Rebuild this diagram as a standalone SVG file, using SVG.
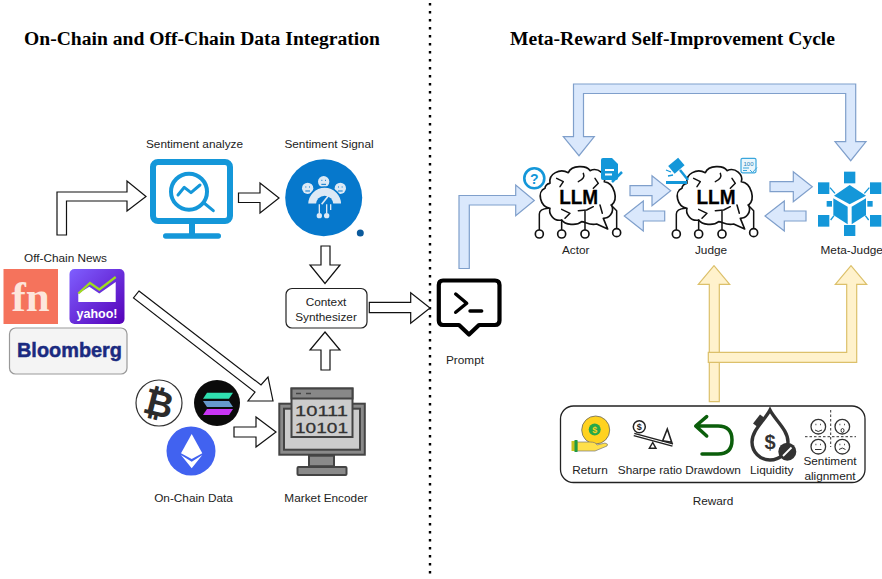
<svg xmlns="http://www.w3.org/2000/svg" xmlns:xlink="http://www.w3.org/1999/xlink" width="882" height="579" viewBox="0 0 882 579">
<style>
text{font-family:"Liberation Sans",Arial,sans-serif;fill:#222}
.l{font-size:11.8px;text-anchor:middle}
.t{font-family:"Liberation Serif","Times New Roman",serif;font-size:19.6px;font-weight:bold;fill:#000}
.w{fill:#fff;stroke:#111;stroke-width:1.2}
.b{fill:#dae8fc;stroke:#7f9fcb;stroke-width:1.2}
.y{fill:#fff2cc;stroke:#dcc06a;stroke-width:1.2}
.k{fill:none;stroke:#111;stroke-linecap:round;stroke-linejoin:round}
.c{fill:#1497d9}
.g{fill:#8a8a8a;stroke:#444;stroke-width:2}
.f{fill:#fff;stroke:#333;stroke-width:1.3}
.m{font-size:21px;font-weight:bold;fill:#000;stroke:#000;stroke-width:.3}
</style>
<defs>
<linearGradient id="yg" x1="0" y1="0" x2="1" y2="1"><stop offset="0" stop-color="#7f5fff"/><stop offset="1" stop-color="#5500b8"/></linearGradient>
<g id="brain">
<path class="k" stroke-width="5" d="M105,100C100,70 135,55 160,68C170,45 215,45 225,62C250,50 275,75 268,95C300,100 310,150 290,165C300,190 280,205 265,205L278,237L245,222C225,228 210,215 200,215C185,228 150,225 140,210C115,215 100,190 105,175C75,170 65,125 90,115C90,110 95,100 105,100Z" fill="#fff"/>
<path class="k" stroke-width="4.500" d="M73,240V192Q73,177 100,175M140,240V210M210,240V180M305,240V182L288,165M125,85L145,95L135,110M205,70Q212,85 190,95M240,85L250,100L235,115M140,178L165,190L150,205M190,182L215,180L235,170M255,165L262,190"/>
<circle cx="73" cy="252" r="12" fill="#fff" stroke="#111" stroke-width="5"/>
<circle cx="140" cy="252" r="12" fill="#fff" stroke="#111" stroke-width="5"/>
<circle cx="210" cy="252" r="12" fill="#fff" stroke="#111" stroke-width="5"/>
<circle cx="305" cy="248" r="12" fill="#fff" stroke="#111" stroke-width="5"/>
</g>
</defs>
<rect width="882" height="579" fill="#fff"/>
<line x1="430" y1="3" x2="430" y2="579" stroke="#000" stroke-width="2.4" stroke-dasharray="2.4 5.6"/>
<text class="t" x="24" y="45">On-Chain and Off-Chain Data Integration</text>
<text class="t" x="510" y="45">Meta-Reward Self-Improvement Cycle</text>

<g id="connectors">
<polygon class="w" points="57,235 57,192 127,192 127,181 146,196.5 127,211 127,201 66.5,201 66.5,235"/>
<polygon class="w" points="238.5,193 260,193 260,183 279,198 260,213 260,202.500 238.500,202.500"/>
<polygon class="w" points="321,246 330,246 330,265 340,265 325,283.500 310,265 321,265"/>
<polygon class="w" points="325,332 340,350 330,350 330,370 321,370 321,350 310,350"/>
<polygon class="w" points="139,291 261,385 268,377 273,401 248,401 255,392 133.500,298"/>
<polygon class="w" points="234,427 256,427 256,417 276,432 256,447 256,437 234,437"/>
<polygon class="w" points="369.300,302.300 410.700,302.300 410.700,292.700 430,308 410.700,323.300 410.700,312.700 369.300,312.700"/>
<polygon class="b" points="573.500,136.700 573.500,84 855.700,84 855.700,141.700 866,141.700 850.700,160.700 835,141.700 845.700,141.700 845.700,93.500 583.500,93.500 583.500,136.700 594.300,136.700 579,155.700 563.300,136.700"/>
<polygon class="b" points="459,268.500 459,195.500 515.700,195.500 515.700,185 534.300,200.500 515.700,215.700 515.700,205 469.300,205 469.300,268.500"/>
<polygon class="b" points="630,185.700 652,185.700 652,175.700 670.700,190.700 652,205.700 652,195.700 630,195.700"/>
<polygon class="b" points="664.700,211 643.300,211 643.300,201 624.300,216 643.300,231 643.300,221 664.700,221"/>
<polygon class="b" points="770,181.700 793.300,181.700 793.300,171.700 812.300,186.700 793.300,201.700 793.300,191.700 770,191.700"/>
<polygon class="b" points="806,211 784.300,211 784.300,201 765,216 784.300,231 784.300,221 806,221"/>
<polygon class="y" points="709.300,401.700 709.300,284.300 698.300,284.300 714,265.700 729.700,284.300 719.300,284.300 719.300,401.700"/>
<polygon class="y" points="708.300,352.300 846.700,352.300 846.700,284.300 835.300,284.300 851,265.700 866.700,284.300 856.700,284.300 856.700,362.300 708.300,362.300"/>
</g>

<g id="sentiment-analyze">
<text class="l" x="194.500" y="148">Sentiment analyze</text>
<rect x="153" y="162" width="77" height="59" rx="5" fill="#fff" stroke="#1497d9" stroke-width="6"/>
<rect class="c" x="189" y="224" width="6" height="11"/>
<rect class="c" x="163" y="233.300" width="58" height="5.400" rx="2.700"/>
<circle cx="189" cy="191.700" r="18" fill="none" stroke="#1497d9" stroke-width="4"/>
<path d="M204,203L213.300,210.700M178,195L184.300,187.300L191,192.700L200,185" fill="none" stroke="#1497d9" stroke-width="3" stroke-linecap="round" stroke-linejoin="round"/>
</g>

<g id="sentiment-signal">
<text class="l" x="329" y="148">Sentiment Signal</text>
<circle cx="323.700" cy="197.700" r="38.500" fill="#0678cc"/>
<circle cx="360.300" cy="233" r="3.500" fill="#0b5a9c"/>
<g transform="translate(280,160) scale(.3333)">
<g fill="#dce9f5"><circle cx="83" cy="85" r="17"/><circle cx="131" cy="65" r="17"/><circle cx="181" cy="85" r="17"/>
<path d="M82,133A52,52 0 0 1 186,133Z" stroke="#0678cc" stroke-width="5"/><circle cx="118" cy="167" r="8"/><circle cx="140" cy="167" r="8"/></g>
<path d="M108,133A26,26 0 0 1 160,133Z" fill="#0678cc"/>
<path d="M118,133V160M140,133V160M152,133V150" stroke="#dce9f5" stroke-width="4" fill="none"/>
<path d="M125,133L147,105" stroke="#dce9f5" stroke-width="5"/>
<path d="M76,81h3M87,81h3M124,61h3M135,61h3M174,81h3M185,81h3M76,93h14M124,73h14M174,93h14" stroke="#0678cc" stroke-width="3" fill="none"/>
</g>
</g>

<g id="off-chain-news">
<text class="l" x="65.500" y="262">Off-Chain News</text>
<rect x="3.500" y="269" width="54.500" height="55" fill="#f5735c"/>
<text x="30.500" y="311" text-anchor="middle" style="font-family:'Liberation Serif',serif;font-size:43px;font-weight:bold;fill:#fde6dc">fn</text>
<rect x="69.500" y="269" width="55" height="55" rx="5" fill="url(#yg)"/>
<polygon points="78.300,302 78.300,293.500 89.300,286.700 99.300,293.500 115.700,282 115.700,302" fill="#fff"/>
<path d="M78.300,293.500L90,283L99.300,289.500L115.700,277" fill="none" stroke="#9fdc1e" stroke-width="2.300"/>
<text x="97" y="318" text-anchor="middle" style="font-size:12.500px;font-weight:bold;fill:#fff">yahoo!</text>
<rect x="9.500" y="328" width="117.500" height="46" rx="6" fill="#f4f4f4" stroke="#999" stroke-width="1.200"/>
<text x="17" y="357" textLength="105" lengthAdjust="spacingAndGlyphs" style="font-size:21px;font-weight:bold;fill:#1a2a80;stroke:#1a2a80;stroke-width:.5">Bloomberg</text>
</g>

<g id="context-synthesizer">
<rect x="286" y="288.500" width="81" height="39.500" rx="6" fill="#fff" stroke="#222" stroke-width="1.200"/>
<text class="l" x="326" y="305.500">Context</text>
<text class="l" x="326" y="320.500">Synthesizer</text>
</g>

<g id="on-chain-data">
<circle cx="159" cy="403" r="23" fill="#fff" stroke="#333" stroke-width="1.200"/>
<text x="159" y="416" text-anchor="middle" transform="rotate(14 159 403)" style="font-family:'DejaVu Sans',sans-serif;font-size:36px;font-weight:bold;fill:#2b2b2b">₿</text>
<circle cx="217" cy="403" r="23" fill="#0b0b0b"/>
<polygon points="207,392.700 233,392.700 229,398.700 203,398.700" fill="#2fe0b0"/>
<polygon points="203,401 229,401 233,407 207,407" fill="#6699cc"/>
<polygon points="207,409 233,409 229,415 203,415" fill="#c935f5"/>
<circle cx="191" cy="451" r="24.500" fill="#4162f0"/>
<polygon points="191.700,434 181,453.300 191.700,459 202.300,453.300" fill="#fff"/>
<polygon points="181,455 191.700,468.300 202.300,455 191.700,461.700" fill="#fff"/>
<text class="l" x="193.500" y="502">On-Chain Data</text>
</g>

<g id="market-encoder">
<rect class="g" x="279.300" y="403.700" width="85.500" height="51"/>
<rect x="284" y="408.700" width="76" height="41" fill="#ccc" stroke="#444" stroke-width="2"/>
<rect class="g" x="309" y="455.700" width="25" height="10.500"/>
<rect class="g" x="297.500" y="467" width="49" height="8" rx="1"/>
<rect x="291.500" y="388.500" width="61" height="48.500" fill="#ccc" stroke="#444" stroke-width="2"/>
<rect x="291.500" y="388.500" width="61" height="10" fill="#888" stroke="#444" stroke-width="2"/>
<path d="M296,393.500H301M306,393.500H311" stroke="#444" stroke-width="1.600"/>
<text x="295" y="415.500" textLength="53" lengthAdjust="spacingAndGlyphs" style="font-size:15.500px;fill:#333;stroke:#333;stroke-width:.3">10111</text>
<text x="295" y="432.500" textLength="53" lengthAdjust="spacingAndGlyphs" style="font-size:15.500px;fill:#333;stroke:#333;stroke-width:.3">10101</text>
<text class="l" x="326" y="502">Market Encoder</text>
</g>

<g id="prompt">
<path d="M443,280.500H495Q499.500,280.500 499.500,285V320.500Q499.500,325 495,325H479L469,334.500L459,325H443Q438.800,325 438.800,320.500V285Q438.800,280.500 443,280.500Z" fill="#fff" stroke="#000" stroke-width="4.200" stroke-linejoin="round"/>
<path d="M455.700,294L466.700,303.300L455.700,312.300M470,311H481.700" fill="none" stroke="#000" stroke-width="3.400" stroke-linecap="round" stroke-linejoin="round"/>
<text class="l" x="465" y="364">Prompt</text>
</g>

<g id="actor">
<use xlink:href="#brain" href="#brain" transform="translate(515,150) scale(.3333)"/>
<text class="m" x="559.200" y="203.500" textLength="39" lengthAdjust="spacingAndGlyphs">LLM</text>
<circle cx="534.300" cy="178.300" r="10" fill="#fff" stroke="#1497d9" stroke-width="2.600"/>
<text x="534.300" y="183.500" text-anchor="middle" style="font-size:14px;font-weight:bold;fill:#1497d9">?</text>
<path class="c" d="M601,160Q601,158 603,158H612L618,164V178Q618,180 616,180H603Q601,180 601,178Z"/>
<path d="M605,170H614M605,174.500H612" stroke="#fff" stroke-width="2"/>
<path d="M612,182L622,172" stroke="#1497d9" stroke-width="2.500"/>
<text class="l" x="575.700" y="254.300">Actor</text>
</g>

<g id="judge">
<use xlink:href="#brain" href="#brain" transform="translate(652,150) scale(.3333)"/>
<text class="m" x="696.500" y="203.500" textLength="39" lengthAdjust="spacingAndGlyphs">LLM</text>
<rect class="c" x="666" y="181" width="21" height="3"/>
<rect class="c" x="670" y="161" width="13" height="10" transform="rotate(-40 676 166)"/>
<path d="M680,170L688,180" stroke="#1497d9" stroke-width="2.500"/>
<path d="M666,170L671,172M668,176L673,175" stroke="#1497d9" stroke-width="1.300"/>
<rect x="741" y="158.300" width="15" height="14.500" rx="1.500" fill="#eaf6fc" stroke="#3aa6dc" stroke-width="1.200"/>
<text x="748.500" y="165.500" text-anchor="middle" style="font-size:6px;fill:#1d7fb8">100</text>
<path d="M743,168H749M743,170.500H747M750,170L752.500,172.500L757,167.500" fill="none" stroke="#3aa6dc" stroke-width="1"/>
<text class="l" x="711" y="254.300">Judge</text>
</g>

<g id="meta-judge">
<g transform="translate(810,165) scale(.3333)">
<g class="c">
<rect x="102" y="20" width="34" height="35"/><rect x="24" y="52" width="34" height="35"/><rect x="180" y="52" width="34" height="35"/>
<rect x="24" y="150" width="34" height="35"/><rect x="180" y="150" width="34" height="35"/><rect x="102" y="180" width="34" height="33"/>
<rect x="50" y="108" width="16" height="17"/><rect x="172" y="108" width="16" height="17"/>
<polygon points="119,60 168,92 119,118 72,92"/><polygon points="70,100 113,125 113,178 70,150"/><polygon points="125,125 168,100 168,150 125,178"/>
</g>
<path d="M60,68L75,85M178,68L163,85M62,165L72,152M176,165L166,152" stroke="#1497d9" stroke-width="4"/>
</g>
<text class="l" x="851.700" y="254.300">Meta-Judge</text>
</g>

<g id="reward">
<rect x="560.500" y="406" width="304.500" height="76.500" rx="13" fill="#fff" stroke="#222" stroke-width="1.300"/>
<text class="l" x="713" y="505">Reward</text>
<circle cx="595.700" cy="430" r="14" fill="#ffd21f" stroke="#666" stroke-width=".8"/>
<circle cx="594.700" cy="429.500" r="6" fill="#25a84a"/>
<text x="594.700" y="433" text-anchor="middle" style="font-size:9px;font-weight:bold;fill:#ffd21f">$</text>
<path d="M577,442H590Q596,442 597,445L605,443Q609,444 607,446L595,451H577Z" fill="#ffe04a" stroke="#777" stroke-width=".7"/>
<rect x="571.500" y="441" width="6" height="10" fill="#c9c21e"/><rect x="574.500" y="440" width="3" height="12" fill="#1f9a45"/>
<text class="l" x="590" y="474">Return</text>
<circle cx="639.300" cy="426.700" r="6" fill="#fff" stroke="#222" stroke-width="1.500"/>
<text x="639.300" y="430" text-anchor="middle" style="font-size:9px;font-weight:bold">$</text>
<path d="M634,434.500L672.700,445" stroke="#222" stroke-width="3.500"/><path d="M634,434.500L672.700,445" stroke="#fff" stroke-width="1"/>
<polygon points="652.700,442.500 649.300,448.300 656,448.300" fill="#fff" stroke="#222" stroke-width="1.400"/>
<polygon points="667.300,429 662.700,440.700 671.700,442.300" fill="#fff" stroke="#222" stroke-width="1.600"/>
<text class="l" x="650" y="474">Sharpe ratio</text>
<path d="M706.700,416.700L695.700,426L706.700,436M696,426H718Q732,426 732,440Q732,454 718,454H702" fill="none" stroke="#0b5e0b" stroke-width="3.500" stroke-linecap="round" stroke-linejoin="round"/>
<text class="l" x="713" y="474">Drawdown</text>
<path d="M770,410C775,420 788,430 788,442C788,452 780,460 770,460C760,460 752,452 752,442C752,430 765,420 770,410Z" fill="#fff" stroke="#333" stroke-width="3.400"/>
<path d="M755,425L762,416" stroke="#333" stroke-width="5"/>
<text x="770" y="449" text-anchor="middle" style="font-size:20px;font-weight:bold;fill:#333">$</text>
<circle cx="787.300" cy="451.700" r="9" fill="#333"/>
<path d="M783,456L791.500,447.500" stroke="#fff" stroke-width="1.800"/>
<text class="l" x="771.700" y="474">Liquidity</text>
<path d="M830.700,410V447M805,436.700H856" stroke="#333" stroke-width="1" stroke-dasharray="2.500 2"/>
<circle class="f" cx="818.300" cy="426.700" r="7.300"/><circle class="f" cx="842.300" cy="426.700" r="7.300"/><circle class="f" cx="818.300" cy="446.700" r="7.300"/><circle class="f" cx="842.300" cy="446.700" r="7.300"/>
<path d="M815,430Q818,433 822,430M841,430.500a1.500,2 0 1 0 3,0a1.500,2 0 1 0 -3,0M815,449.500H821.500M839,449.500Q842.300,446.500 845.500,449.500" fill="none" stroke="#333" stroke-width="1"/>
<path d="M815.500,424.500h.8M820,424.500h.8M839.500,424.500h.8M844,424.500h.8M815.500,444.500h.8M820,444.500h.8M839.500,444.500h.8M844,444.500h.8" stroke="#333" stroke-width="1.300"/>
<text class="l" x="830" y="465">Sentiment</text>
<text class="l" x="830" y="480">alignment</text>
</g>
</svg>
